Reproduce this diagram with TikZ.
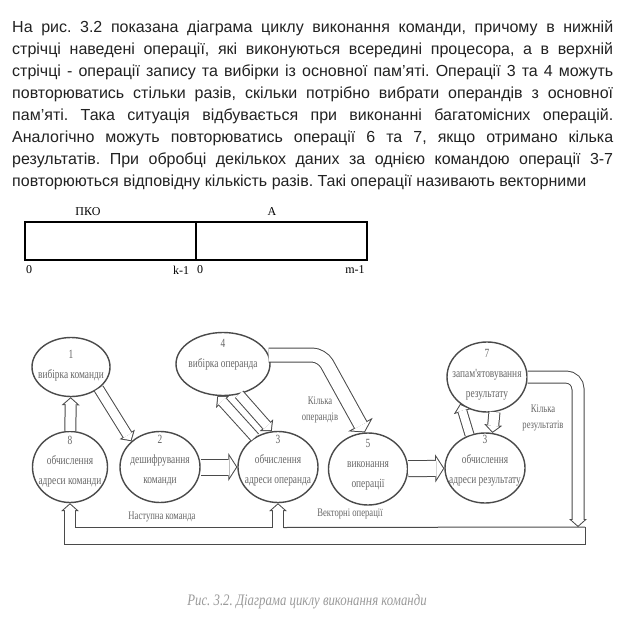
\documentclass[tikz,border=0pt]{standalone}
\usepackage{fontspec}
\setmainfont{Liberation Sans}
\newfontfamily\regfont{Liberation Serif}
\newfontfamily\bookfont{Liberation Serif}[FakeStretch=0.75]
\newfontfamily\capfont{Liberation Serif}[FakeStretch=0.8]
\usetikzlibrary{arrows.meta,shapes.geometric}
\definecolor{inkc}{HTML}{222222}
\definecolor{linec}{HTML}{4A4A4A}
\definecolor{labc}{HTML}{666666}
\definecolor{capc}{HTML}{9A9A9A}
\frenchspacing

\begin{document}
\begin{tikzpicture}[
  x=1pt, y=-1pt,
  oper/.style 2 args={ellipse, draw=linec, line width=1.4pt, inner sep=0pt,
    minimum width=#1, minimum height=#2},
  lbl/.style={font=\bookfont\fontsize{12.5}{20}\selectfont, text=labc,
    align=center, inner sep=0pt},
  note/.style={font=\bookfont\fontsize{11.5}{16}\selectfont, text=labc,
    align=center, inner sep=0pt},
  field/.style={draw, line width=2.6pt, minimum width=171pt, minimum height=38pt,
    inner sep=0pt},
  bit/.style={font=\regfont\fontsize{12}{14}\selectfont, inner sep=0pt},
  % hollow arrow: grey band, white core
  link/.style={draw=linec, line width=#1+2pt,
    -{Triangle[length=8pt, width=18pt, line width=0pt]},
    postaction={draw=white, line width=#1, shorten >=1.34pt,
      -{Triangle[length=5.66pt, width=12.7pt, line width=0pt]}}},
  link/.default=10pt,
  wide link/.style={draw=linec, line width=#1+2pt,
    -{Triangle[length=9pt, width=28pt, line width=0pt]},
    postaction={draw=white, line width=#1, shorten >=1.19pt,
      -{Triangle[length=6.81pt, width=21.2pt, line width=0pt]}}},
  wide link/.default=15pt,
  pipe/.style={draw=linec, line width=1pt}
]
\fill[white] (0,0) rectangle (631,636);
\useasboundingbox (0,0) rectangle (631,636);

% text above the figure
\node (para) [anchor=north west, inner sep=0pt, text width=601pt, align=justify,
  font=\fontsize{16}{22}\selectfont, text=inkc] at (12,20)
  {На рис. 3.2 показана діаграма циклу виконання команди, причому в нижній\linebreak
   стрічці наведені операції, які виконуються всередині процесора, а в верхній\linebreak
   стрічці - операції запису та вибірки із основної пам'яті. Операції 3 та 4 можуть\linebreak
   повторюватись стільки разів, скільки потрібно вибрати операндів з основної\linebreak
   пам'яті. Така ситуація відбувається при виконанні багатомісних операцій.\linebreak
   Аналогічно можуть повторюватись операції 6 та 7, якщо отримано кілька\linebreak
   результатів. При обробці декількох даних за однією командою операції 3-7\linebreak
   повторюються відповідну кількість разів. Такі операції називають векторними};

% command format
\node[field] (fpko) at (110.5,241) {};
\node[field] (fadr) at (281.5,241) {};
\node[bit] (tpko) at (88,212) {ПКО};
\node[bit] (tadr) at (272,212) {А};
\node[bit] (b0)  at (29,270) {0};
\node[bit] (bk)  at (181,270) {k-1};
\node[bit] (b0a) at (200,270) {0};
\node[bit] (bm)  at (355,270) {m-1};

% operations
\node[oper={78pt}{59pt}] (op1) at (71,367) {};
\node[oper={75pt}{71pt}] (op8) at (70,467) {};
\node[oper={80pt}{71pt}] (op2) at (160,467) {};
\node[oper={80pt}{71pt}] (op3) at (278,467) {};
\node[oper={94pt}{63pt}] (op4) at (223,364) {};
\node[oper={79pt}{72pt}] (op5) at (368,469) {};
\node[oper={80pt}{70pt}] (op3r) at (485,468) {};
\node[oper={80pt}{70pt}] (op7) at (487,377) {};

\node[lbl] (t1) at (71,366) {1\\вибірка команди};
\node[lbl] (t8) at (70,462) {8\\обчислення\\адреси команди};
\node[lbl] (t2) at (160,461) {2\\дешифрування\\команди};
\node[lbl] (t3) at (278,461) {3\\обчислення\\адреси операнда};
\node[lbl] (t4) at (223,355) {4\\вибірка операнда};
\node[lbl] (t5) at (368,465) {5\\виконання\\операції};
\node[lbl] (t3r) at (485,461) {3\\обчислення\\адреси результату};
\node[lbl] (t7) at (487,375) {7\\запам'ятовування\\результату};

% bends
\coordinate (k45) at (322,355);
\coordinate (k7) at (578,377);
\coordinate (p7) at (578,527);
\coordinate (p8) at (70,527.5);
\coordinate (p3) at (278,527.5);
\coordinate (q1) at (64.5,544);
\coordinate (q2) at (585,544);

\draw[link] (op8) -- (op1);
\draw[link=9pt] (op1.-38) -- (op2.138);
\draw[wide link] (op2) -- (op3);
\draw[link=9pt] (op3.128) -- (op4.-100);
\draw[link=9pt] (op4.-62) -- (op3.100);
\draw[wide link=13pt, rounded corners=10pt] ([xshift=-2pt]op4.east |- k45) -- (k45) -- (op5.95);
\draw[wide link] (op5) -- (op3r);
\draw[link=8pt] (op3r.115) -- (op7.-135);
\draw[link=10pt] (op7.-78) -- (op3r.78);
\draw[link=11pt, rounded corners=12pt] (op7.east) -- (k7) -- (p7);
\draw[link] (p8) -- (op8);
\draw[link] (p3) -- (op3);
\draw[pipe] ([xshift=-5.5pt]p8) -- (q1) -- (q2) -- (q2 |- p7);
\draw[pipe] ([xshift=5.5pt]p8) -- ([xshift=-5.5pt]p3);
\draw[pipe] ([xshift=5.5pt]p3) -- (q2 |- p7);

\node[note] (lopd) at (320,410) {Кілька\\операндів};
\node[note] (lres) at (543,418) {Кілька\\результатів};
\node[note] (lnext) at (162,517) {Наступна команда};
\node[note] (lvec) at (350,514) {Векторні операції};

\node (cap) [font=\capfont\itshape\fontsize{16}{18}\selectfont, text=capc,
  inner sep=0pt] at (307,602) {Рис. 3.2. Діаграма циклу виконання команди};
\end{tikzpicture}
\end{document}
